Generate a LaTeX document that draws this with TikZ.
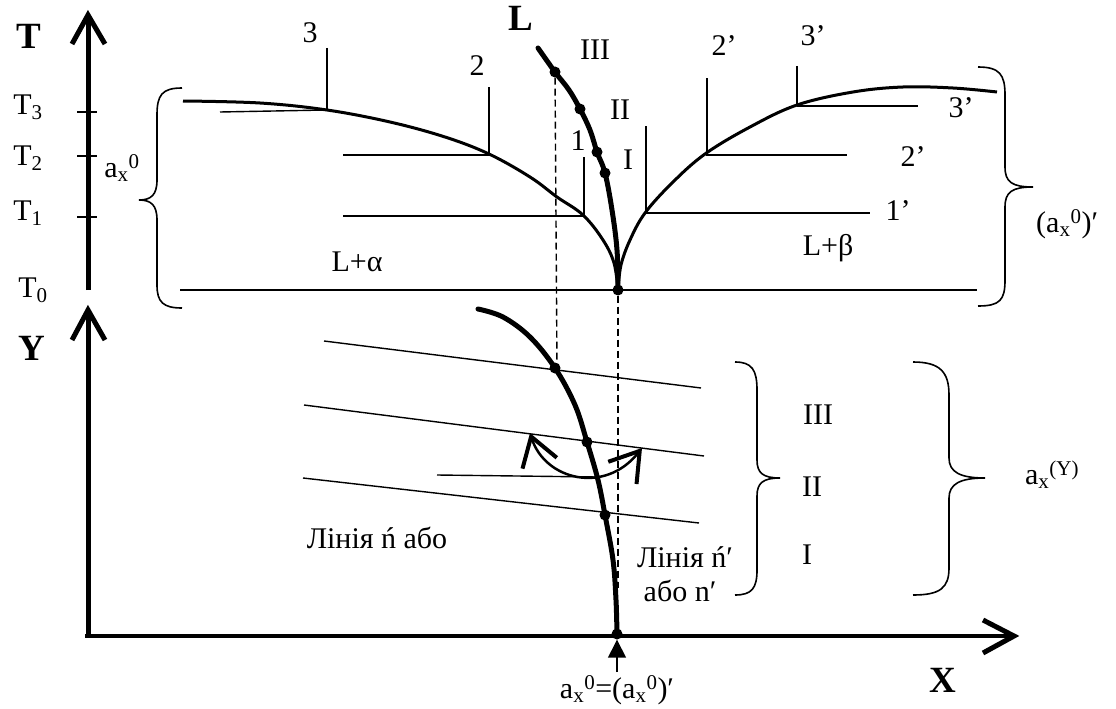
\documentclass[tikz,border=0pt]{standalone}
\usepackage{fontspec}
\setmainfont{Liberation Serif}
\usetikzlibrary{arrows.meta}
\begin{document}
\begin{tikzpicture}[x=1pt,y=-1pt,
  lbl/.style={font=\fontsize{30}{34}\selectfont, inner sep=0pt},
  blbl/.style={font=\fontsize{37}{40}\selectfont\bfseries, inner sep=0pt},
  axisline/.style={line width=5pt},
  axishead/.style={line width=5pt, line join=miter, miter limit=10},
  isoline/.style={line width=1.4pt},
  curveline/.style={line width=3pt},
  lcurve/.style={line width=5pt, line cap=round},
  dsh/.style={line width=1.4pt, dash pattern=on 7pt off 4pt},
  dotm/.style={circle, fill, inner sep=0pt, minimum size=11pt},
  brc/.style={line width=1.6pt},
  swing/.style={line width=2.5pt, {Straight Barb[length=28pt,width=36pt,line width=4pt]}-{Straight Barb[length=28pt,width=36pt,line width=4pt]}},
]
\useasboundingbox (0,0) rectangle (1116,709);

% ---------- coordinates ----------
\coordinate (Tbot) at (88,290);
\coordinate (Ttop) at (88,15);
\coordinate (Ybot) at (88,638);
\coordinate (Ytop) at (88,310);
\coordinate (Xleft) at (85,636);
\coordinate (Xright) at (1014,636);

% ---------- axes ----------
\draw[axisline] (Tbot) -- (Ttop);
\draw[axishead] (72,44) -- (Ttop) -- (105,44);
\draw[axisline] (Ybot) -- (Ytop);
\draw[axishead] (72,340) -- (Ytop) -- (105,340);
\draw[axisline, line width=4.5pt] (Xleft) -- (Xright);
\draw[axishead] (983,620) -- (Xright) -- (983,653);
\foreach \yy/\nm in {112/t3,156/t2,217/t1}{
  \draw[line width=1.6pt] (77,\yy) coordinate (\nm a) -- (97,\yy) coordinate (\nm b);
}

% ---------- axis labels ----------
\node[blbl] (lT) at (29,36) {T};
\node[lbl] (lT3) at (28,107) {T\textsubscript{3}};
\node[lbl] (lT2) at (28,158) {T\textsubscript{2}};
\node[lbl] (lT1) at (28,213) {T\textsubscript{1}};
\node[lbl] (lT0) at (33,290) {T\textsubscript{0}};
\node[blbl] (lY) at (32,348) {Y};
\node[blbl] (lX) at (943,680) {X};

% ---------- upper diagram: isotherms ----------
\draw[isoline] (180,290) coordinate (t0l) -- (977,290) coordinate (t0r);
\draw[isoline] (220,112) coordinate (i3l) -- (327,110) coordinate (i3r);
\draw[isoline] (343,155) coordinate (i2l) -- (489,155) coordinate (i2r);
\draw[isoline] (343,216) coordinate (i1l) -- (584,216) coordinate (i1r);
\draw[isoline] (797,106) coordinate (j3l) -- (918,106) coordinate (j3r);
\draw[isoline] (706,155) coordinate (j2l) -- (847,155) coordinate (j2r);
\draw[isoline] (645,213) coordinate (j1l) -- (870,213) coordinate (j1r);
% ticks
\draw[isoline] (327,48) coordinate (k3a) -- (327,110) coordinate (k3b);
\draw[isoline] (489,87) coordinate (k2a) -- (489,155) coordinate (k2b);
\draw[isoline] (584,157) coordinate (k1a) -- (584,215) coordinate (k1b);
\draw[isoline] (646,126) coordinate (m1a) -- (646,212) coordinate (m1b);
\draw[isoline] (707,78) coordinate (m2a) -- (707,154) coordinate (m2b);
\draw[isoline] (797,66) coordinate (m3a) -- (797,105) coordinate (m3b);

% liquidus / solidus curves
\draw[curveline] plot[smooth, tension=0.6] coordinates {(183,101) (260,103) (327,110) (390,122) (445,137) (489,154) (530,177) (557,197) (583,215) (603,240) (614,263) (618,290)};
\draw[curveline] plot[smooth, tension=0.6] coordinates {(618,290) (621,265) (630,240) (645,213) (672,183) (705,154) (750,127) (797,105) (853,92) (903,87) (953,88) (997,92)};
\draw[lcurve] plot[smooth, tension=0.6] coordinates {(538,48) (555,72) (569,90) (580,109) (590,130) (597,152) (605,173) (612,210) (617,250) (618,290)};

% dots on L
\node[dotm] (p3) at (555,72) {};
\node[dotm] (p2) at (580,109) {};
\node[dotm] (p1a) at (597,152) {};
\node[dotm] (p1) at (605,173) {};
\node[dotm] (p0) at (618,290) {};

% labels upper
\node[blbl] (lL) at (521,18) {L};
\node[lbl] (lIIIu) at (595,50) {III};
\node[lbl] (lIIu) at (620,110) {II};
\node[lbl] (lIu) at (628,160) {I};
\node[lbl] (l1) at (578,141) {1};
\node[lbl] (l3) at (310,33) {3};
\node[lbl] (l2) at (477,66) {2};
\node[lbl] (l2pt) at (724,46) {2'};
\node[lbl] (l3pt) at (813,36) {3'};
\node[lbl] (l3pr) at (961,108) {3'};
\node[lbl] (l2pr) at (913,157) {2'};
\node[lbl] (l1pr) at (898,211) {1'};
\node[lbl] (lLa) at (357,262) {L+α};
\node[lbl] (lLb) at (828,248) {L+β};
\node[lbl] (lax0) at (122,168) {a\textsubscript{x}\textsuperscript{0}};
\node[lbl, anchor=west] (lax0p) at (1036,224) {(a\textsubscript{x}\textsuperscript{0})′};

% braces upper
\draw[brc] (182,88) .. controls (162,88) and (157,95) .. (157,115) -- (157,180) .. controls (157,195) and (151,200) .. (139,200) .. controls (151,200) and (157,205) .. (157,220) -- (157,285) .. controls (157,302) and (163,308) .. (182,308);
\draw[brc] (978,67) .. controls (1000,67) and (1005,75) .. (1005,95) -- (1005,167) .. controls (1005,182) and (1012,187) .. (1033,187) .. controls (1012,187) and (1005,192) .. (1005,207) -- (1005,280) .. controls (1005,300) and (1000,306) .. (978,306);

% dashed projections
\draw[dsh] (p3) -- (557,368);
\draw[dsh] (p0) -- (618,588);

% ---------- lower diagram ----------
\draw[isoline] (324,341) coordinate (s1a) -- (701,388) coordinate (s1b);
\draw[isoline] (304,405) coordinate (s2a) -- (704,456) coordinate (s2b);
\draw[isoline] (303,478) coordinate (s3a) -- (699,523) coordinate (s3b);
\draw[isoline] (437,475) coordinate (h1a) -- (597,477) coordinate (h1b);

\draw[lcurve] plot[smooth, tension=0.6] coordinates {(478,309) (503,317) (530,337) (555,368) (575,405) (587,442) (598,480) (605,515) (613,560) (616,600) (617,635)};
\node[dotm] (q3) at (555,368) {};
\node[dotm] (q2) at (587,442) {};
\node[dotm] (q1) at (605,515) {};
\node[dotm] (q0) at (617,634) {};

% curved double arrow
\coordinate (sw1) at (530,433);
\coordinate (sw2) at (642,448);
\draw[swing] (sw1) .. controls (545,480) and (605,495) .. (sw2);

% small arrow below X axis
\coordinate (arrb) at (617,672);
\draw[line width=1.5pt, -{Triangle[length=18pt,width=18pt]}] (arrb) -- (q0);

% labels lower
\node[lbl] (lline1) at (377,538) {Лінія ń або};
\node[lbl] (lline2) at (685,557) {Лінія ń′};
\node[lbl] (lline3) at (680,591) {або n′};
\node[lbl] (lIII) at (818,415) {III};
\node[lbl] (lII) at (812,487) {II};
\node[lbl] (lI) at (807,555) {I};
\node[lbl] (laxY) at (1052,475) {a\textsubscript{x}\textsuperscript{(Y)}};
\node[lbl] (lbottom) at (617,690) {a\textsubscript{x}\textsuperscript{0}=(a\textsubscript{x}\textsuperscript{0})′};

% braces lower
\draw[brc] (735,362) .. controls (752,362) and (757,370) .. (757,390) -- (757,460) .. controls (757,473) and (763,478) .. (780,478) .. controls (763,478) and (757,483) .. (757,496) -- (757,570) .. controls (757,588) and (752,595) .. (735,595);
\draw[brc] (913,362) .. controls (940,362) and (949,372) .. (949,395) -- (949,458) .. controls (949,472) and (960,478) .. (985,478) .. controls (960,478) and (949,484) .. (949,498) -- (949,568) .. controls (949,588) and (940,595) .. (913,595);
\end{tikzpicture}
\end{document}
